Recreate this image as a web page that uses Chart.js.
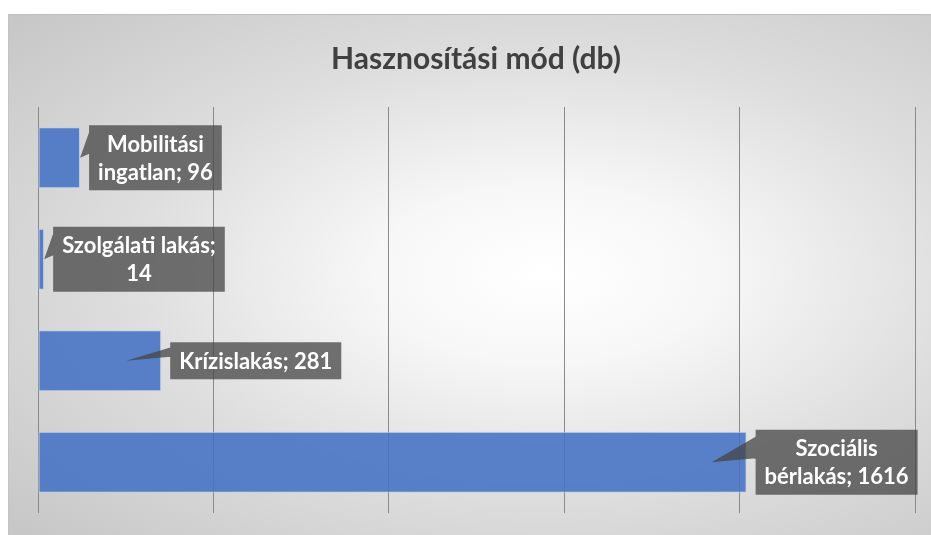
<!DOCTYPE html>
<html lang="hu">
<head>
<meta charset="utf-8">
<title>Hasznosítási mód (db)</title>
<script src="https://cdn.jsdelivr.net/npm/chart.js@4.4.1/dist/chart.umd.min.js"></script>
<style>
  html, body { margin: 0; padding: 0; background: #ffffff; }
  #wrap { position: relative; width: 931px; height: 535px; overflow: hidden; }
  #bg {
    position: absolute; left: 8px; top: 14px; width: 940px; height: 540px;
    border-top: 1px solid #bdbdbd; border-left: 1px solid #c4c4c4;
    background: radial-gradient(ellipse farthest-corner at 57% 48%, #ffffff 0%, #f7f7f7 22%, #dedede 55%, #c4c4c4 100%);
  }
  #myChart { position: absolute; left: 0; top: 0; }
</style>
</head>
<body>
<div id="wrap">
  <div id="bg"></div>
  <canvas id="myChart" width="931" height="535"></canvas>
</div>
<script>
const ctx = document.getElementById("myChart");

// adatok
const categories = ["Mobilitási ingatlan", "Szolgálati lakás", "Krízislakás", "Szociális bérlakás"];
const values = [96, 14, 281, 1616];
const wordsOnFirstLine = [1, 2, 0, 1]; // 0 = egy sorban marad
const chartTitle = "Hasznosítási mód (db)";

// címke sorai: "kategória; érték", sortöréssel
function labelLines(i) {
  const words = (categories[i] + "; " + values[i]).split(" ");
  const n = wordsOnFirstLine[i];
  if (!n) return [words.join(" ")];
  return [words.slice(0, n).join(" "), words.slice(n).join(" ")];
}

const calloutPlugin = {
  id: "callouts",
  afterDatasetsDraw(chart) {
    const c = chart.ctx;
    const meta = chart.getDatasetMeta(0);
    c.save();
    c.font = "bold 22px Lato";
    meta.data.forEach((bar, i) => {
      const lines = labelLines(i);
      const w = Math.max(...lines.map((l) => c.measureText(l).width)) + 18;
      const h = lines.length * 28 + 9;
      const x0 = bar.x + 9;
      const y0 = bar.y - h / 2;
      const barLen = bar.x - bar.base;
      const tipX = barLen > 70 ? bar.x - 35 : bar.x;

      c.fillStyle = "rgba(68, 68, 68, 0.75)";
      c.beginPath();
      c.rect(x0, y0, w, h);
      c.moveTo(x0, y0 + Math.min(7, h * 0.14));
      c.lineTo(tipX, bar.y);
      c.lineTo(x0, bar.y - 4);
      c.closePath();
      c.fill();

      c.fillStyle = "#ffffff";
      c.textAlign = "center";
      c.textBaseline = "middle";
      lines.forEach((l, k) => {
        c.fillText(l, x0 + w / 2, y0 + 4.5 + 14 + k * 28 + 1);
      });
    });

    // cím
    c.fillStyle = "#404040";
    c.font = "bold 30px Lato";
    c.textAlign = "center";
    c.textBaseline = "alphabetic";
    c.fillText(chartTitle, 476, 69);
    c.restore();
  },
};

new Chart(ctx, {
  type: "bar",
  data: {
    labels: categories,
    datasets: [
      {
        data: values,
        backgroundColor: "rgba(68, 114, 196, 0.88)",
        borderColor: "rgba(190, 208, 238, 0.9)",
        borderWidth: 1,
        borderSkipped: false,
        barPercentage: 0.6,
        categoryPercentage: 1,
      },
    ],
  },
  options: {
    indexAxis: "y",
    responsive: false,
    animation: false,
    devicePixelRatio: 1,
    layout: { padding: { left: 38, right: 16, top: 107, bottom: 22 } },
    scales: {
      x: {
        min: 0,
        max: 2000,
        ticks: { display: false, stepSize: 400 },
        grid: { color: "#8a8a8a", drawTicks: false, lineWidth: 1 },
        border: { display: false },
      },
      y: { display: false },
    },
    plugins: {
      legend: { display: false },
      tooltip: { enabled: false },
      title: { display: false },
    },
  },
  plugins: [calloutPlugin],
});
</script>
</body>
</html>
